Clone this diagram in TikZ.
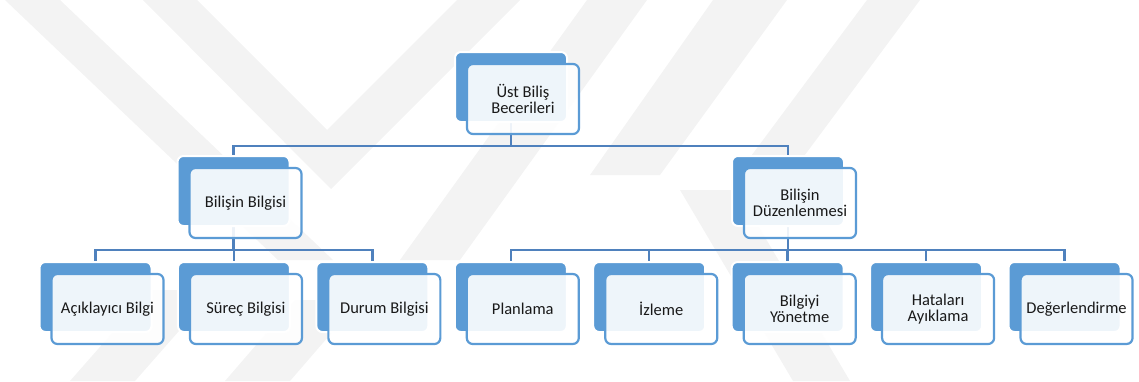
\documentclass[tikz,border=0pt]{standalone}
\usepackage{fontspec}
\setmainfont{Carlito}
\usetikzlibrary{calc}
\definecolor{accent}{HTML}{5B9BD5}
\definecolor{linkblue}{HTML}{4F81BD}
\definecolor{wmark}{HTML}{F3F3F3}
\pgfdeclarelayer{wm}
\pgfdeclarelayer{links}
\pgfsetlayers{wm,links,main}
\begin{document}
\begin{tikzpicture}[x=1pt,y=-1pt,
  backbox/.style={draw=white, line width=2pt, fill=accent, rounded corners=6pt,
    minimum width=112pt, minimum height=70pt, inner sep=0pt},
  frontbox/.style={draw=accent, line width=2.2pt, fill=white, fill opacity=0.9,
    text opacity=1, text=black!90, rounded corners=6pt,
    minimum width=112pt, minimum height=70pt, inner sep=2pt, align=center,
    font=\fontsize{16.5}{16.5}\selectfont},
  link/.style={draw=linkblue, line width=2.4pt}]

\useasboundingbox (0,0) rectangle (1139,381);

% faint background emblem
\begin{pgfonlayer}{wm}
  \fill[wmark] (5,0) -- (60,0) -- (333,260) -- (278,260) -- cycle;
  \fill[wmark] (143,0) -- (197,0) -- (327,130) -- (457,0) -- (520,0) -- (331,189) -- cycle;
  \fill[wmark] (587,0) -- (647,0) -- (460,260) -- (400,260) -- cycle;
  \fill[wmark] (713,0) -- (787,0) -- (660,175) -- (590,175) -- cycle;
  \fill[wmark] (867,0) -- (920,0) -- (790,175) -- (737,175) -- cycle;
  \fill[wmark] (70,381) -- (135,381) -- (215,290) -- (150,290) -- cycle;
  \fill[wmark] (225,381) -- (290,381) -- (360,300) -- (295,300) -- cycle;
  \fill[wmark] (680,190) -- (737,190) -- (850,381) -- (793,381) -- cycle;
\end{pgfonlayer}

% level 1
\node[backbox] (b0) at (511,87) {};
\node[frontbox] (f0) at ($(b0)+(12,12)$) {Üst Biliş\\Becerileri};

% level 2
\node[backbox] (b1) at (233.5,191) {};
\node[frontbox] (f1) at ($(b1)+(12,12)$) {Bilişin Bilgisi};
\node[backbox] (b2) at (788,191) {};
\node[frontbox] (f2) at ($(b2)+(12,12)$) {Bilişin\\Düzenlenmesi};

% level 3
\foreach \i/\t in {1/Açıklayıcı Bilgi, 2/Süreç Bilgisi, 3/Durum Bilgisi,
                   4/Planlama, 5/İzleme, 6/Bilgiyi\\Yönetme,
                   7/Hataları\\Ayıklama, 8/Değerlendirme} {
  \node[backbox] (c\i) at ({95.5+138.43*(\i-1)},297) {};
  \node[frontbox] (g\i) at ($(c\i)+(12,12)$) {\t};
}

% junction points of the connectors
\coordinate (j0) at (511,146);
\coordinate (j1) at (233.5,250);
\coordinate (j2) at (788,250);

\begin{pgfonlayer}{links}
  \draw[link] (b0.south) -- (j0);
  \draw[link] (b1.north) |- (j0) -| (b2.north);

  \draw[link] (b1.south) -- (j1);
  \draw[link] (c1.north) |- (j1) -| (c3.north);
  \draw[link] (c2.north) -- (c2.north |- j1);

  \draw[link] (b2.south) -- (j2);
  \draw[link] (c4.north) |- (j2) -| (c8.north);
  \draw[link] (c5.north) -- (c5.north |- j2);
  \draw[link] (c6.north) -- (c6.north |- j2);
  \draw[link] (c7.north) -- (c7.north |- j2);
\end{pgfonlayer}
\end{tikzpicture}
\end{document}
